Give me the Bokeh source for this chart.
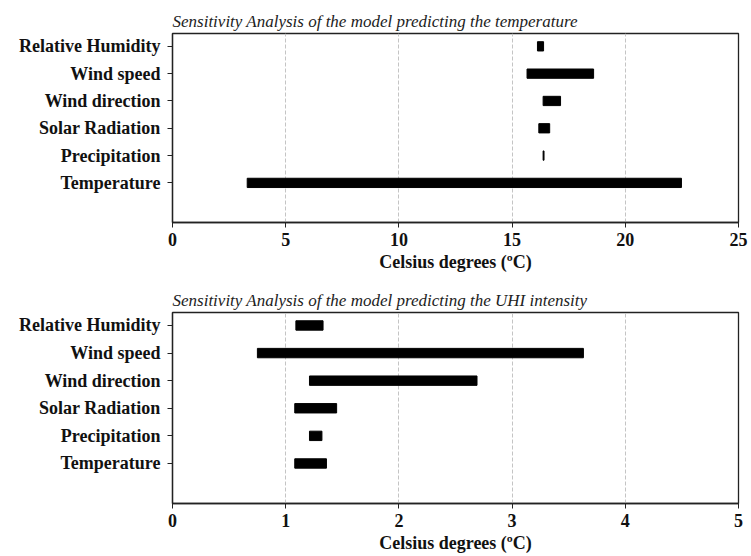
from bokeh.plotting import figure
from bokeh.layouts import column
from bokeh.models import Range1d, FixedTicker, Title
from bokeh.embed import file_html
from bokeh.resources import INLINE

# Categories, bottom to top
categories = ["Temperature", "Precipitation", "Solar Radiation",
              "Wind direction", "Wind speed", "Relative Humidity"]

# Model predicting the temperature (range of output, deg C)
temp_low = [3.3, 16.37, 16.18, 16.37, 15.66, 16.12]
temp_high = [22.48, 16.41, 16.66, 17.14, 18.6, 16.39]

# Model predicting the UHI intensity (range of output, deg C)
uhi_low = [1.08, 1.21, 1.08, 1.21, 0.75, 1.09]
uhi_high = [1.36, 1.32, 1.45, 2.69, 3.63, 1.33]

temp_ticks = [0, 5, 10, 15, 20, 25]
uhi_ticks = [0, 1, 2, 3, 4, 5]

FONT = "Liberation Serif"


def make_fig(title, low, high, xmax, ticks, height, top, bottom):
    p = figure(width=751, height=height, output_backend="svg", toolbar_location=None,
               x_range=Range1d(0, xmax), y_range=Range1d(-1.45, 5.47),
               min_border_left=172, min_border_right=13,
               min_border_top=top, min_border_bottom=bottom)
    p.title = Title(text=title, align="left", text_font=FONT, text_font_style="italic",
                    text_font_size="17px", text_color="#222222", offset=0, standoff=5)
    ys = list(range(len(categories)))
    p.hbar(y=ys, left=low, right=high, height=0.34, color="black")

    p.xaxis.ticker = FixedTicker(ticks=ticks)
    p.yaxis.ticker = FixedTicker(ticks=ys)
    p.yaxis.major_label_overrides = {i: c for i, c in enumerate(categories)}
    for ax in (p.xaxis[0], p.yaxis[0]):
        ax.major_label_text_font = FONT
        ax.major_label_text_font_style = "bold"
        ax.major_label_text_font_size = "18px"
        ax.major_label_text_color = "#111111"
        ax.major_tick_out = 5
        ax.major_tick_in = 0
        ax.minor_tick_out = 0
        ax.minor_tick_in = 0
        ax.axis_line_color = "#222222"
        ax.major_tick_line_color = "#222222"
        ax.axis_line_width = 1.3
    p.yaxis.major_label_standoff = 7
    p.xaxis.major_label_standoff = 5
    p.xaxis.axis_label = "Celsius degrees (ºC)"
    p.xaxis.axis_label_text_font = FONT
    p.xaxis.axis_label_text_font_style = "bold"
    p.xaxis.axis_label_text_font_size = "18px"
    p.xaxis.axis_label_text_color = "#111111"
    p.xaxis.axis_label_standoff = 3

    p.ygrid.grid_line_color = None
    p.xgrid.grid_line_color = "#c4c4c4"
    p.xgrid.grid_line_dash = "4 2"
    p.xgrid.grid_line_width = 1
    p.outline_line_color = "#222222"
    p.outline_line_width = 1.3
    p.outline_line_alpha = 1
    p.background_fill_color = "white"
    p.border_fill_color = "white"
    return p


p1 = make_fig("Sensitivity Analysis of the model predicting the temperature",
              temp_low, temp_high, 25, temp_ticks, 285, 33, 63)
p2 = make_fig("Sensitivity Analysis of the model predicting the UHI intensity",
              uhi_low, uhi_high, 5, uhi_ticks, 271, 27, 53)

layout = column(p1, p2, spacing=0)
open("out.html", "w").write(file_html(layout, INLINE))
